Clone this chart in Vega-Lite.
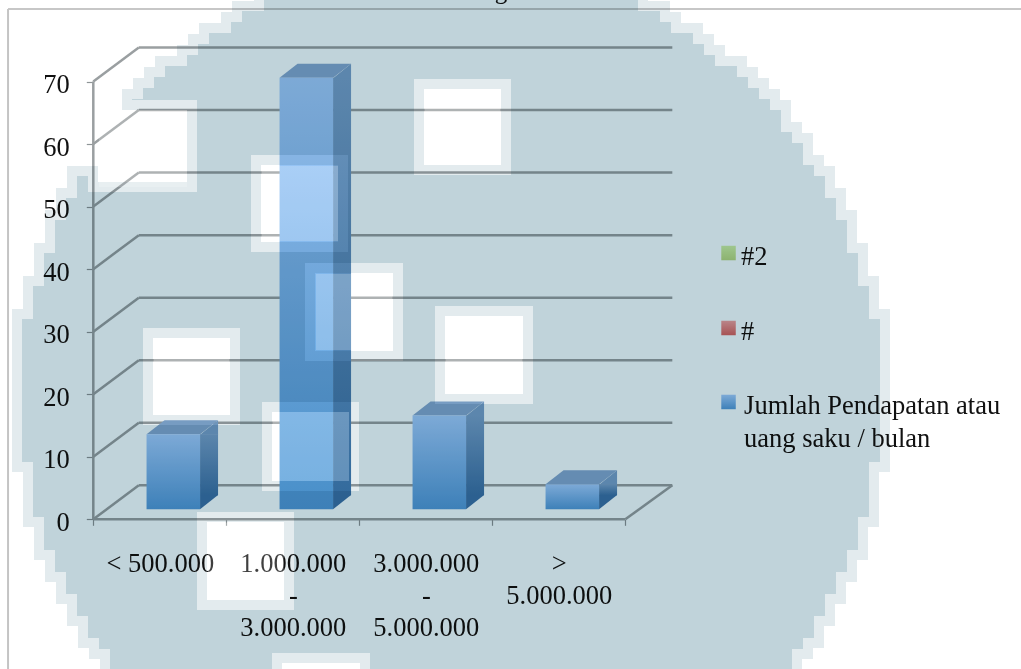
{
  "$schema": "https://vega.github.io/schema/vega-lite/v6.json",
  "width": 1021,
  "height": 669,
  "padding": 0,
  "autosize": {"type": "none"},
  "background": "#ffffff",
  "view": {"stroke": null},
  "config": {"view": {"stroke": null}},
  "datasets": {
    "pendapatan": [
      {"kategori": "< 500.000", "posisi": 0.5, "jumlah": 12},
      {"kategori": "1.000.000 - 3.000.000", "posisi": 1.5, "jumlah": 69},
      {"kategori": "3.000.000 - 5.000.000", "posisi": 2.5, "jumlah": 15},
      {"kategori": "> 5.000.000", "posisi": 3.5, "jumlah": 4}
    ],
    "kisi": [
      {"nilai": 0}, {"nilai": 10}, {"nilai": 20}, {"nilai": 30},
      {"nilai": 40}, {"nilai": 50}, {"nilai": 60}, {"nilai": 70}
    ]
  },
  "encoding": {
    "x": {
      "type": "quantitative",
      "scale": {"domain": [-0.7015, 6.975], "range": [0, 1021], "nice": false, "zero": false}
    },
    "y": {
      "type": "quantitative",
      "scale": {"domain": [-23.94, 83.04], "range": [669, 0], "nice": false, "zero": false}
    }
  },
  "layer": [
    {
      "description": "Outer frame of the chart area",
      "data": {"values": [{"tepi": "bingkai"}]},
      "mark": {"type": "rule", "color": "#b4b4b4", "strokeWidth": 1.5},
      "encoding": {
        "x": {"datum": -0.641},
        "x2": {"datum": 6.975},
        "y": {"datum": 81.6}
      }
    },
    {
      "data": {"values": [{"tepi": "bingkai"}]},
      "mark": {"type": "rule", "color": "#c4c4c4", "strokeWidth": 2},
      "encoding": {
        "x": {"datum": -0.641},
        "y": {"datum": 81.6},
        "y2": {"datum": -23.94}
      }
    },
    {
      "description": "Back wall gridlines, one per axis value",
      "data": {"name": "kisi"},
      "mark": {"type": "rule", "color": "#9a9fa1", "strokeWidth": 2.5, "xOffset": 45.5, "x2Offset": 47, "yOffset": -34},
      "encoding": {
        "x": {
          "datum": 0,
          "type": "quantitative",
          "axis": {
            "orient": "bottom",
            "offset": -149.7,
            "title": null,
            "domain": false,
            "grid": false,
            "values": [0, 0.5, 1, 1.5, 2, 2.5, 3, 3.5, 4],
            "tickSize": 6,
            "tickColor": "#8f9597",
            "tickWidth": 1.2,
            "tickOpacity": {"condition": {"test": "datum.value % 1 == 0", "value": 1}, "value": 0},
            "labelOverlap": false,
            "labelFlush": false,
            "labelBound": false,
            "labelFont": "Liberation Serif",
            "labelFontSize": 26.5,
            "labelColor": "#111111",
            "labelBaseline": "top",
            "labelPadding": 25,
            "labelLineHeight": 32,
            "labelExpr": "datum.value == 0.5 ? '< 500.000' : datum.value == 1.5 ? ['1.000.000', '-', '3.000.000'] : datum.value == 2.5 ? ['3.000.000', '-', '5.000.000'] : datum.value == 3.5 ? ['>', '5.000.000'] : ''"
          }
        },
        "x2": {"datum": 4},
        "y": {
          "field": "nilai",
          "type": "quantitative",
          "axis": {
            "orient": "left",
            "offset": -93.3,
            "title": null,
            "domain": false,
            "grid": false,
            "values": [0, 10, 20, 30, 40, 50, 60, 70],
            "tickSize": 7,
            "tickColor": "#8f9597",
            "tickWidth": 1.2,
            "labelFont": "Liberation Serif",
            "labelFontSize": 26.5,
            "labelColor": "#111111",
            "labelPadding": 17,
            "labelOffset": 3
          }
        }
      }
    },
    {
      "description": "Side wall gridlines running from each value to the back wall",
      "data": {"name": "kisi"},
      "mark": {"type": "rule", "color": "#9a9fa1", "strokeWidth": 2.5, "x2Offset": 45.5, "y2Offset": -34},
      "encoding": {
        "x": {"datum": 0},
        "x2": {"datum": 0},
        "y": {"field": "nilai", "type": "quantitative"},
        "y2": {"field": "nilai"}
      }
    },
    {
      "description": "Vertical value axis line",
      "data": {"values": [{"tepi": "sumbu"}]},
      "mark": {"type": "rule", "color": "#9a9fa1", "strokeWidth": 2.5},
      "encoding": {"x": {"datum": 0}, "y": {"datum": 0}, "y2": {"datum": 70}}
    },
    {
      "description": "Front edge of the floor",
      "data": {"values": [{"tepi": "lantai"}]},
      "mark": {"type": "rule", "color": "#9a9fa1", "strokeWidth": 2.5},
      "encoding": {"x": {"datum": 0}, "x2": {"datum": 4}, "y": {"datum": 0}}
    },
    {
      "description": "Right edge of the floor",
      "data": {"values": [{"tepi": "lantai"}]},
      "mark": {"type": "rule", "color": "#9a9fa1", "strokeWidth": 2.5, "x2Offset": 47, "y2Offset": -34},
      "encoding": {"x": {"datum": 4}, "x2": {"datum": 4}, "y": {"datum": 0}, "y2": {"datum": 0}}
    },
    {
      "description": "Bar side: rectangular core",
      "data": {"name": "pendapatan"},
      "mark": {
        "type": "rect",
        "width": 18,
        "xOffset": 49.25,
        "yOffset": -10,
        "y2Offset": -24,
        "fill": {"x1": 0, "y1": 0, "x2": 0, "y2": 1, "gradient": "linear", "stops": [{"offset": 0, "color": "#7aa2ca"}, {"offset": 1, "color": "#3a74a8"}]}
      },
      "encoding": {
        "x": {"field": "posisi", "type": "quantitative"},
        "y": {"field": "jumlah", "type": "quantitative"},
        "y2": {"datum": 0}
      }
    },
    {
      "description": "Bar side: upper slanted corner",
      "data": {"name": "pendapatan"},
      "mark": {"type": "point", "filled": true, "opacity": 1, "size": 4, "strokeWidth": 0, "fill": "#7aa2ca", "shape": "M-9,0.4 L9,0.4 L9,-14 Z", "xOffset": 49.25, "yOffset": -10},
      "encoding": {
        "x": {"field": "posisi", "type": "quantitative"},
        "y": {"field": "jumlah", "type": "quantitative"}
      }
    },
    {
      "description": "Bar side: lower slanted corner",
      "data": {"name": "pendapatan"},
      "mark": {"type": "point", "filled": true, "opacity": 1, "size": 4, "strokeWidth": 0, "fill": "#3a74a8", "shape": "M-9,-0.4 L9,-0.4 L-9,14 Z", "xOffset": 49.25, "yOffset": -24},
      "encoding": {
        "x": {"field": "posisi", "type": "quantitative"},
        "y": {"datum": 0}
      }
    },
    {
      "description": "Bar top face",
      "data": {"name": "pendapatan"},
      "mark": {"type": "point", "filled": true, "opacity": 1, "size": 4, "strokeWidth": 0, "fill": "#86a9d0", "shape": "M-26.75,0 L26.75,0 L44.75,-14 L-8.75,-14 Z", "xOffset": 13.5, "yOffset": -10},
      "encoding": {
        "x": {"field": "posisi", "type": "quantitative"},
        "y": {"field": "jumlah", "type": "quantitative"}
      }
    },
    {
      "description": "Bar front face",
      "data": {"name": "pendapatan"},
      "mark": {
        "type": "rect",
        "width": 53.5,
        "xOffset": 13.5,
        "yOffset": -10,
        "y2Offset": -10,
        "fill": {"x1": 0, "y1": 0, "x2": 0, "y2": 1, "gradient": "linear", "stops": [{"offset": 0, "color": "#a6cdfb"}, {"offset": 1, "color": "#519bd8"}]}
      },
      "encoding": {
        "x": {"field": "posisi", "type": "quantitative"},
        "y": {"field": "jumlah", "type": "quantitative"},
        "y2": {"datum": 0}
      }
    },
    {
      "description": "Legend swatch for the second empty series",
      "data": {"values": [{"seri": "#2"}]},
      "mark": {"type": "point", "filled": true, "opacity": 1, "shape": "square", "size": 210, "strokeWidth": 0,
        "fill": {"x1": 0, "y1": 0, "x2": 0, "y2": 1, "gradient": "linear", "stops": [{"offset": 0, "color": "#d3f0a5"}, {"offset": 1, "color": "#bbd882"}]}},
      "encoding": {"x": {"datum": 4.776}, "y": {"datum": 42.58}}
    },
    {
      "description": "Legend swatch for the first empty series",
      "data": {"values": [{"seri": "#"}]},
      "mark": {"type": "point", "filled": true, "opacity": 1, "shape": "square", "size": 210, "strokeWidth": 0,
        "fill": {"x1": 0, "y1": 0, "x2": 0, "y2": 1, "gradient": "linear", "stops": [{"offset": 0, "color": "#f7a1a0"}, {"offset": 1, "color": "#de6361"}]}},
      "encoding": {"x": {"datum": 4.776}, "y": {"datum": 30.59}}
    },
    {
      "description": "Legend swatch for the plotted series",
      "data": {"values": [{"seri": "Jumlah Pendapatan atau uang saku / bulan"}]},
      "mark": {"type": "point", "filled": true, "opacity": 1, "shape": "square", "size": 210, "strokeWidth": 0,
        "fill": {"x1": 0, "y1": 0, "x2": 0, "y2": 1, "gradient": "linear", "stops": [{"offset": 0, "color": "#a6cdfb"}, {"offset": 1, "color": "#519bd8"}]}},
      "encoding": {"x": {"datum": 4.776}, "y": {"datum": 18.76}}
    },
    {
      "data": {"values": [{"seri": "#2"}]},
      "mark": {"type": "text", "align": "left", "baseline": "alphabetic", "font": "Liberation Serif", "fontSize": 26.5, "color": "#111111"},
      "encoding": {"x": {"datum": 4.87}, "y": {"datum": 40.66}, "text": {"field": "seri"}}
    },
    {
      "data": {"values": [{"seri": "#"}]},
      "mark": {"type": "text", "align": "left", "baseline": "alphabetic", "font": "Liberation Serif", "fontSize": 26.5, "color": "#111111"},
      "encoding": {"x": {"datum": 4.87}, "y": {"datum": 28.67}, "text": {"field": "seri"}}
    },
    {
      "data": {"values": [{"seri": "Jumlah Pendapatan atau\nuang saku / bulan"}]},
      "mark": {"type": "text", "align": "left", "baseline": "alphabetic", "font": "Liberation Serif", "fontSize": 26.5, "color": "#111111", "lineBreak": "\n", "lineHeight": 33},
      "encoding": {"x": {"datum": 4.893}, "y": {"datum": 16.84}, "text": {"field": "seri"}}
    },
    {
      "description": "Descender of the chart title cut off by the top edge",
      "data": {"values": [{"judul": "g"}]},
      "mark": {"type": "text", "align": "center", "baseline": "alphabetic", "font": "Liberation Serif", "fontSize": 25, "color": "#111111"},
      "encoding": {"x": {"datum": 3.065}, "y": {"datum": 83.26}, "text": {"field": "judul"}}
    },
    {
      "description": "Pale round seal multiplied over the whole chart, with square cut-outs; its path is in window units, anchored at the domain corner",
      "data": {"values": [{"lapisan": "segel"}]},
      "mark": {
        "type": "point",
        "filled": true,
        "opacity": 1,
        "size": 4,
        "blend": "multiply",
        "fill": "#c0d3da",
        "stroke": "#c0d3da",
        "strokeOpacity": 0.45,
        "strokeWidth": 20,
        "shape": "M264,-20 H638 V11 H660 V22 H671 V33 H693 V44 H704 V55 H715 V66 H737 V77 H748 V88 H759 V99 H770 V110 H781 V132 H792 V143 H803 V165 H814 V176 H825 V198 H836 V220 H847 V253 H858 V286 H869 V319 H880 V462 H869 V517 H858 V550 H847 V572 H836 V594 H825 V616 H814 V638 H803 V649 H792 V690 H110 V649 H99 V638 H88 V616 H77 V594 H66 V572 H55 V550 H44 V517 H33 V462 H22 V319 H33 V286 H44 V253 H55 V220 H66 V198 H77 V176 H88 V192 H197 V100 H132 V99 H143 V88 H154 V77 H165 V66 H187 V55 H198 V44 H209 V33 H231 V22 H242 V11 H264 Z M251,155 V252 H348 V155 Z M414,79 V175 H511 V79 Z M305,263 V361 H403 V263 Z M435,306 V404 H533 V306 Z M143,328 V425 H240 V328 Z M262,402 V491 H359 V402 Z M197,512 V610 H294 V512 Z M272,653 V689 H370 V653 Z"
      },
      "encoding": {"x": {"datum": -0.7015}, "y": {"datum": 83.04}}
    },
    {
      "description": "Cut-outs of the seal also wash what lies beneath them lighter",
      "data": {"values": [{"lapisan": "jendela"}]},
      "mark": {
        "type": "point",
        "filled": true,
        "opacity": 1,
        "size": 4,
        "strokeWidth": 0,
        "fill": "#ffffff",
        "fillOpacity": 0.2,
        "shape": "M99,110 H187 V187 H99 Z M262,166 H338 V241 H262 Z M425,90 H500 V164 H425 Z M316,274 H392 V350 H316 Z M446,317 H522 V393 H446 Z M154,339 H229 V415 H154 Z M273,412 H349 V481 H273 Z M208,523 H284 V599 H208 Z M283,664 H360 V689 H283 Z"
      },
      "encoding": {"x": {"datum": -0.7015}, "y": {"datum": 83.04}}
    }
  ]
}
